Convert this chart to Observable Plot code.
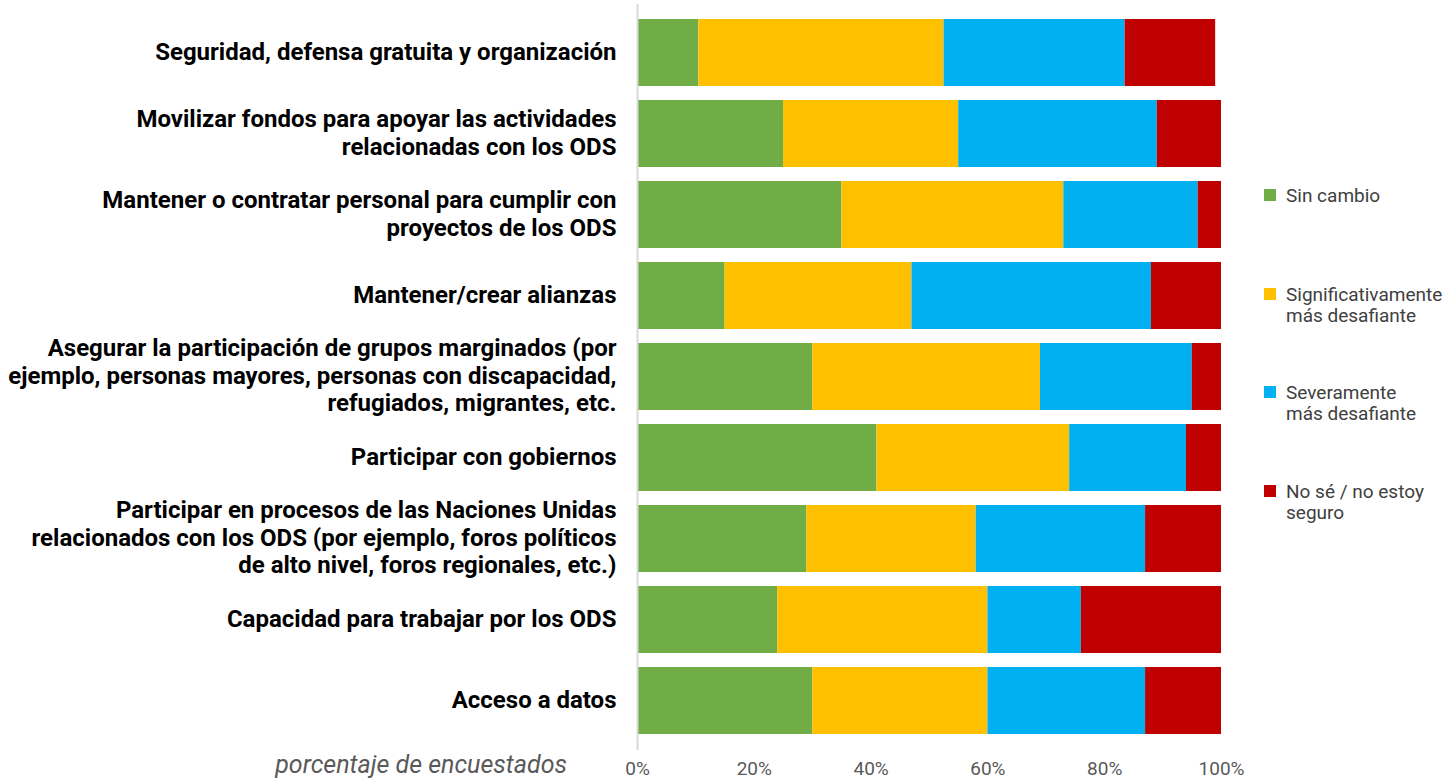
<!DOCTYPE html>
<html>
<head>
<meta charset="utf-8">
<script src="https://cdn.jsdelivr.net/npm/d3@7"></script>
<script src="https://cdn.jsdelivr.net/npm/@observablehq/plot@0.6"></script>
<style>
  html, body { margin: 0; padding: 0; background: #fff; }
  #wrap { position: relative; width: 1444px; height: 780px; font-family: Roboto, "Noto Sans", sans-serif; }
  #chart { position: absolute; left: 0; top: 0; }
  .legend { position: absolute; left: 1264px; font-size: 19px; color: #404040; line-height: 21px; }
  .legend .sw { position: absolute; left: 0; top: 4px; width: 12px; height: 12px; }
  .legend .tx { position: absolute; left: 22px; top: 0; white-space: nowrap; }
  #xlabel { position: absolute; right: calc(1444px - 567px); top: 752px; font-size: 25px; font-style: italic; color: #595959; white-space: nowrap; line-height: 26px; }
</style>
</head>
<body>
<div id="wrap">
  <div id="chart"></div>
  <div id="legend"></div>
  <div id="xlabel">porcentaje de encuestados</div>
</div>
<script>
const categories = [
  "Seguridad, defensa gratuita y organización",
  "Movilizar fondos para apoyar las actividades\nrelacionadas con los ODS",
  "Mantener o contratar personal para cumplir con\nproyectos de los ODS",
  "Mantener/crear alianzas",
  "Asegurar la participación de grupos marginados (por\nejemplo, personas mayores, personas con discapacidad,\nrefugiados, migrantes, etc.",
  "Participar con gobiernos",
  "Participar en procesos de las Naciones Unidas\nrelacionados con los ODS (por ejemplo, foros políticos\nde alto nivel, foros regionales, etc.)",
  "Capacidad para trabajar por los ODS",
  "Acceso a datos"
];
const seriesNames = ["Sin cambio", "Significativamente\nmás desafiante", "Severamente\nmás desafiante", "No sé / no estoy\nseguro"];
const seriesColors = ["#70AD47", "#FFC000", "#00B0F0", "#C00000"];
const sinCambio       = [10.5, 25, 35, 15, 30, 41, 29, 24, 30];
const significativo   = [42, 30, 38, 32, 39, 33, 29, 36, 30];
const severamente     = [31, 34, 23, 41, 26, 20, 29, 16, 27];
const noSe            = [15.5, 11, 4, 12, 5, 6, 13, 24, 13];
const xTicks = [0, 20, 40, 60, 80, 100];

const seriesValues = [sinCambio, significativo, severamente, noSe];
const data = [];
seriesNames.forEach((s, si) => {
  categories.forEach((c, ci) => {
    data.push({category: c, series: s, value: seriesValues[si][ci]});
  });
});

const chart = Plot.plot({
  width: 1444,
  height: 780,
  marginLeft: 637,
  marginRight: 223,
  marginTop: 4,
  marginBottom: 30,
  style: {fontFamily: "Roboto, 'Noto Sans', sans-serif", background: "#fff"},
  x: {domain: [0, 100]},
  y: {domain: categories, padding: 0.17},
  color: {domain: seriesNames, range: seriesColors},
  marks: [
    Plot.barX(data, {x: "value", y: "category", fill: "series"}),
    Plot.ruleX([0], {stroke: "#d9d9d9", strokeWidth: 2, y1: null, y2: null}),
    Plot.axisX({ticks: xTicks, tickFormat: d => d + "%", tickSize: 0, tickPadding: 11, fontSize: 19, color: "#595959", label: null}),
    Plot.axisY({tickSize: 0, tickPadding: 21, fontSize: 24, fontWeight: "bold", lineHeight: 1.15, lineWidth: Infinity, color: "#000", label: null, dy: -2})
  ]
});
document.getElementById("chart").appendChild(chart);

const legendTops = [185, 284, 382, 481];
const legend = document.getElementById("legend");
seriesNames.forEach((s, i) => {
  const item = document.createElement("div");
  item.className = "legend";
  item.style.top = legendTops[i] + "px";
  const sw = document.createElement("div");
  sw.className = "sw";
  sw.style.background = seriesColors[i];
  const tx = document.createElement("div");
  tx.className = "tx";
  tx.innerHTML = s.replace("\n", "<br>");
  item.appendChild(sw);
  item.appendChild(tx);
  legend.appendChild(item);
});
</script>
</body>
</html>
